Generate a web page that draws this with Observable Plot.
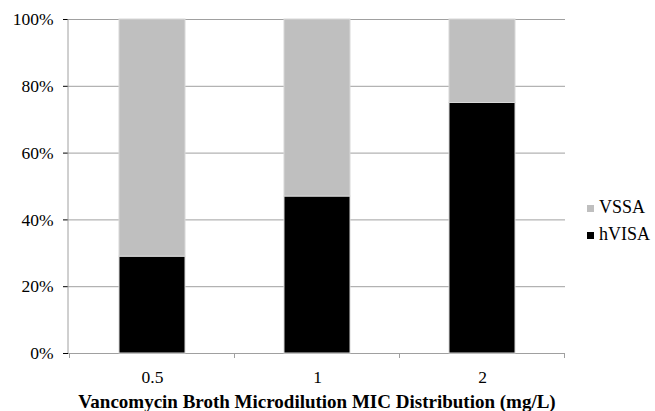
<!DOCTYPE html>
<html>
<head>
<meta charset="utf-8">
<script src="https://cdn.jsdelivr.net/npm/d3@7"></script>
<script src="https://cdn.jsdelivr.net/npm/@observablehq/plot@0.6"></script>
<style>
  html, body { margin: 0; padding: 0; background: #fff; }
  #wrap { position: relative; width: 655px; height: 411px; font-family: "Liberation Serif", serif; }
  #wrap svg, #wrap svg text { font-family: "Liberation Serif", serif !important; }
  #legend { position: absolute; left: 587px; top: 194px; font-size: 18px; line-height: 27px; }
  #legend .sw { display: inline-block; width: 7px; height: 7px; margin-right: 5px; vertical-align: 1px; }
</style>
</head>
<body>
<div id="wrap"><div id="legend"></div></div>
<script>
const categories = ["0.5", "1", "2"];
const hVISA = [0.29, 0.47, 0.75];
const VSSA = [0.71, 0.53, 0.25];
const seriesNames = ["hVISA", "VSSA"];
const seriesColors = ["#000000", "#bfbfbf"];
const yTicks = [0, 0.2, 0.4, 0.6, 0.8, 1];
const xTitle = "Vancomycin Broth Microdilution MIC Distribution (mg/L)";

const data = [];
categories.forEach((c, i) => {
  data.push({mic: c, series: "hVISA", value: hVISA[i]});
  data.push({mic: c, series: "VSSA", value: VSSA[i]});
});

const chart = Plot.plot({
  width: 655,
  height: 411,
  marginLeft: 68,
  marginRight: 90,
  marginTop: 19,
  marginBottom: 58,
  style: {fontFamily: "Liberation Serif, serif", fontSize: "17.5px", color: "#000", background: "#fff", overflow: "visible"},
  x: {domain: categories, paddingInner: 0.6, paddingOuter: 0.3, label: null, tickSize: 0, tickPadding: 17},
  y: {domain: [0, 1], ticks: yTicks, tickFormat: d3.format(".0%"), label: null, tickSize: 5, tickPadding: 10},
  color: {domain: seriesNames, range: seriesColors},
  marks: [
    Plot.gridY(yTicks, {stroke: "#a0a0a0", strokeOpacity: 1, strokeWidth: 1}),
    Plot.barY(data, {x: "mic", y: "value", fill: "series", order: seriesNames, stroke: "#d8d8d8", strokeWidth: 1}),
    Plot.text([xTitle], {frameAnchor: "bottom", dy: 54, fontWeight: "bold", fontSize: 19, fill: "#000"})
  ]
});
document.getElementById("wrap").prepend(chart);

// axis lines and category-boundary ticks drawn from the scales
const xs = chart.scale("x");
const ys = chart.scale("y");
const svg = d3.select(chart);
const y0 = ys.apply(0), y1 = ys.apply(1);
const left = xs.range[0];
svg.append("line").attr("x1", left).attr("x2", left).attr("y1", y1).attr("y2", y0)
  .attr("stroke", "#a0a0a0");
const step = xs.step;
const boundaries = categories.map(c => xs.apply(c) + xs.bandwidth / 2 - step / 2);
boundaries.push(boundaries[boundaries.length - 1] + step);
svg.append("g").selectAll("line").data(boundaries).join("line")
  .attr("x1", d => d).attr("x2", d => d).attr("y1", y0).attr("y2", y0 + 5)
  .attr("stroke", "#a0a0a0");

// legend
const legendOrder = ["VSSA", "hVISA"];
const lg = d3.select("#legend");
legendOrder.forEach(n => {
  const row = lg.append("div");
  row.append("span").attr("class", "sw").style("background", seriesColors[seriesNames.indexOf(n)]);
  row.append("span").text(n);
});
</script>
</body>
</html>
